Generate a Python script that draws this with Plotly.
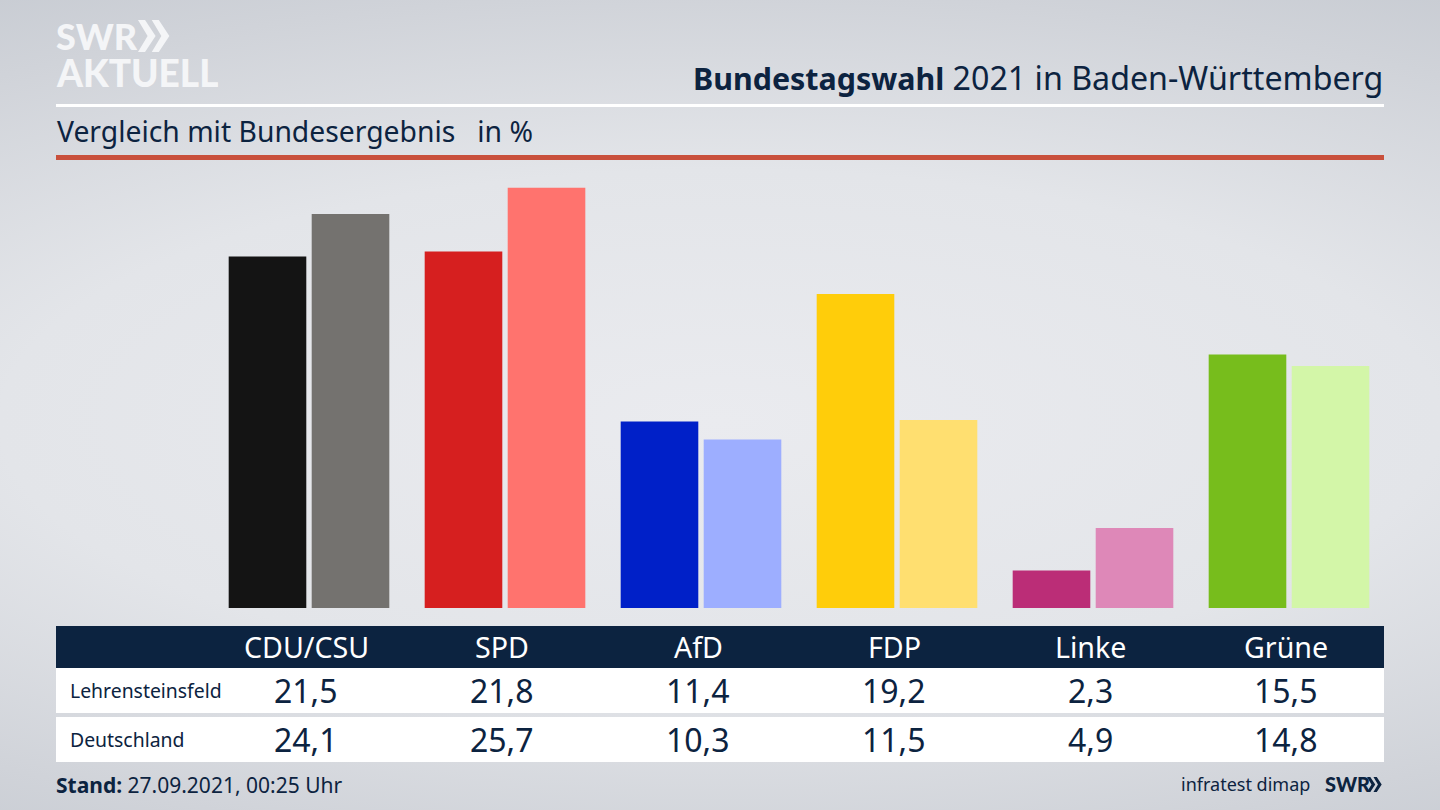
import plotly.graph_objects as go

parties = ['CDU/CSU', 'SPD', 'AfD', 'FDP', 'Linke', 'Grüne']
lehrensteinsfeld = [21.5, 21.8, 11.4, 19.2, 2.3, 15.5]
deutschland = [24.1, 25.7, 10.3, 11.5, 4.9, 14.8]
row_names = ['Lehrensteinsfeld', 'Deutschland']
colors_local = ['#141414', '#d61f1f', '#0020c8', '#ffcd0a', '#bb2d77', '#77bd1c']
colors_federal = ['#74726f', '#ff736e', '#9daeff', '#ffdf70', '#de88b8', '#d3f6a8']

W = 1440
H = 810
NAVY = '#0c2340'
LOGO = '#f4f5f7'
FONT = 'Noto Sans'
LOGO_FONT = 'Lato'


# the reference is laid out in pixels, so convert for paper coordinates
def px(x):
    return x / W


def py(y):
    return 1 - y / H


def rect(x0, y0, x1, y1, color):
    return dict(type='rect', xref='paper', yref='paper', x0=px(x0), x1=px(x1),
                y0=py(y0), y1=py(y1), fillcolor=color, line_width=0, layer='below')


def chevrons(x, y0, y1, color):
    # the two arrow heads of the SWR logo
    h = y1 - y0
    mid = (y0 + y1) / 2
    shapes = []
    for dx in (0, h * 0.43):
        pts = [(x + dx, y0), (x + dx + h * 0.22, y0), (x + dx + h * 0.55, mid),
               (x + dx + h * 0.22, y1), (x + dx, y1), (x + dx + h * 0.3, mid)]
        path = 'M ' + ' L '.join(f'{px(a):.5f},{py(b):.5f}' for a, b in pts) + ' Z'
        shapes.append(dict(type='path', xref='paper', yref='paper', path=path,
                           fillcolor=color, line_width=0))
    return shapes


def label(text, x, y, size, color=NAVY, anchor='left', family=FONT, xref='paper', weight='normal'):
    return dict(text=text, x=px(x) if xref == 'paper' else x, y=py(y), xref=xref, yref='paper',
                xanchor=anchor, yanchor='middle', showarrow=False,
                font=dict(family=family, size=size, color=color, weight=weight))


def fmt(v):
    return f'{v:.1f}'.replace('.', ',')


fig = go.Figure()
fig.add_trace(go.Bar(x=parties, y=lehrensteinsfeld, name='Lehrensteinsfeld',
                     marker=dict(color=colors_local, line_width=0)))
fig.add_trace(go.Bar(x=parties, y=deutschland, name='Deutschland',
                     marker=dict(color=colors_federal, line_width=0)))

shapes = [
    rect(56, 104, 1384, 107, 'white'),
    rect(56, 155, 1384, 160, '#c9503c'),
    rect(56, 626, 1384, 668, NAVY),
    rect(56, 668, 1384, 713, 'white'),
    rect(56, 717, 1384, 762, 'white'),
]
shapes += chevrons(138, 20, 52, LOGO)
shapes += chevrons(1367, 777, 792, NAVY)

logo_top = label('SWR', 54, 36, 36, color=LOGO, family=LOGO_FONT, weight=900)
logo_bottom = label('AKTUELL', 54, 72, 37, color=LOGO, family=LOGO_FONT, weight=900)
# boxes kept tight, the two logo lines sit closer than their line height
logo_top['height'] = 35
logo_bottom['height'] = 35

annotations = [
    label('<b><span style="font-size:30.4px">Bundestagswahl</span></b> 2021 in Baden-Württemberg',
          1385, 77, 32.2, anchor='right'),
    label('Vergleich mit Bundesergebnis   in %', 55, 131, 28.3),
    logo_top,
    logo_bottom,
    label('<b>Stand:</b> 27.09.2021, 00:25 Uhr', 54, 785, 21),
    label('infratest dimap', 1312, 784, 18, anchor='right'),
    label('SWR', 1323, 784, 20, family=LOGO_FONT, weight=900),
    label(row_names[0], 68, 690, 19.4),
    label(row_names[1], 68, 739, 19.4),
]
for i, party in enumerate(parties):
    for text, y, size, color in ((party, 646, 28.6, 'white'),
                                 (fmt(lehrensteinsfeld[i]), 690, 32, NAVY),
                                 (fmt(deutschland[i]), 739, 32, NAVY)):
        a = label(text, party, y, size, color=color, anchor='center', xref='x')
        a['xshift'] = -3
        annotations.append(a)

fig.update_layout(
    width=W,
    height=H,
    margin=dict(l=0, r=0, t=0, b=0),
    paper_bgcolor='rgba(0,0,0,0)',
    plot_bgcolor='rgba(0,0,0,0)',
    showlegend=False,
    barmode='group',
    bargap=0.153,
    bargroupgap=0.065,
    shapes=shapes,
    annotations=annotations,
    xaxis=dict(type='category', categoryorder='array', categoryarray=parties,
               range=[-309 / 196, (W - 309) / 196], visible=False),
    yaxis=dict(domain=[py(608), py(170)], range=[0, 438 / 16.35], visible=False),
)

# body margin off, background glow sits behind the transparent chart
post = ("document.body.style.margin='0';"
        "document.body.style.height='810px';"
        "document.body.style.overflow='hidden';"
        "document.body.style.background="
        "'radial-gradient(ellipse 100% 62% at 50% 52%, #eaebef 0%, #e3e5e9 50%, #d0d3d9 85%, #c8ccd3 100%)';")

fig.write_html("out.html", post_script=post, config={'displayModeBar': False})
